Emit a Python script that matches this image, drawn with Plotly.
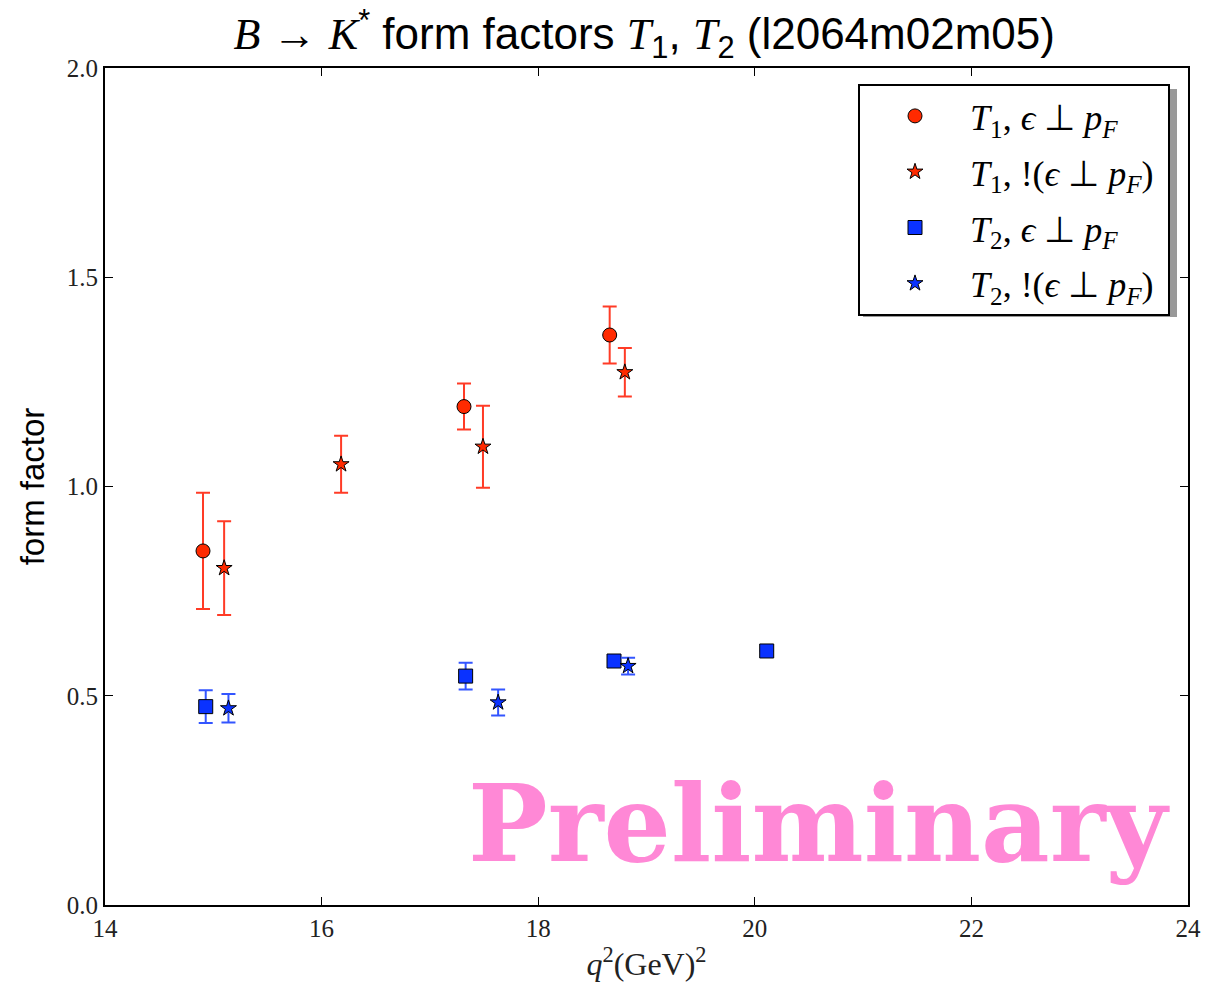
import plotly.graph_objects as go

# T1, eps perp pF (circles)
t1a_x = [14.905, 17.315, 18.66]
t1a_y = [0.846, 1.191, 1.362]
t1a_e = [0.139, 0.055, 0.068]

# T1, !(eps perp pF) (stars)
t1b_x = [15.10, 16.18, 17.49, 18.80]
t1b_y = [0.805, 1.053, 1.095, 1.273]
t1b_e = [0.112, 0.068, 0.098, 0.058]

# T2, eps perp pF (squares)
t2a_x = [14.93, 17.33, 18.70, 20.11]
t2a_y = [0.474, 0.547, 0.583, 0.607]
t2a_e = [0.039, 0.032, 0.0, 0.0]

# T2, !(eps perp pF) (stars)
t2b_x = [15.14, 17.63, 18.83]
t2b_y = [0.470, 0.484, 0.571]
t2b_e = [0.034, 0.031, 0.02]

RED = "#ff2a00"
RED_ERR = "#ff3b26"
BLUE = "#0a32ff"
BLUE_ERR = "#3355ff"

MATH = "font-family:'Liberation Serif', serif; font-style:italic"

series = [
    (t1a_x, t1a_y, t1a_e, "circle", 14, RED, RED_ERR,
     "<i>T</i><sub>1</sub>, <i>ϵ</i> ⊥ <i>p</i><sub><i>F</i></sub>"),
    (t1b_x, t1b_y, t1b_e, "star", 12, RED, RED_ERR,
     "<i>T</i><sub>1</sub>, !(<i>ϵ</i> ⊥ <i>p</i><sub><i>F</i></sub>)&nbsp;"),
    (t2a_x, t2a_y, t2a_e, "square", 14, BLUE, BLUE_ERR,
     "<i>T</i><sub>2</sub>, <i>ϵ</i> ⊥ <i>p</i><sub><i>F</i></sub>"),
    (t2b_x, t2b_y, t2b_e, "star", 12, BLUE, BLUE_ERR,
     "<i>T</i><sub>2</sub>, !(<i>ϵ</i> ⊥ <i>p</i><sub><i>F</i></sub>)&nbsp;"),
]

fig = go.Figure()
for i, (xs, ys, es, sym, sz, col, ecol, name) in enumerate(series):
    fig.add_trace(go.Scatter(
        x=xs, y=ys, mode="markers", name=name,
        legendgroup=f"g{i}",
        marker=dict(symbol=sym, size=sz, color=col,
                    line=dict(color="black", width=1)),
        error_y=dict(type="data", array=es, visible=True,
                     color=ecol, thickness=2, width=7),
    ))

# legend shadow
fig.add_shape(type="rect", xref="paper", yref="paper",
              x0=(863 - 105) / 1083, x1=(1177 - 105) / 1083,
              y0=(905 - 317) / 837, y1=(905 - 89) / 837,
              fillcolor="#999999", line=dict(width=0), layer="above")

fig.add_annotation(
    text="<b>Preliminary</b>", x=20.60, y=0.195, xref="x", yref="y",
    showarrow=False,
    font=dict(family="DejaVu Serif", size=106, color="#ff88d6"),
)

fig.update_layout(
    width=1227, height=990,
    margin=dict(l=105, r=39, t=68, b=85),
    paper_bgcolor="white", plot_bgcolor="white",
    title=dict(
        text=("<span style=\"" + MATH + "\">B</span> → "
              "<span style=\"" + MATH + "\">K</span><sup>*</sup> form factors "
              "<span style=\"" + MATH + "\">T</span><sub>1</sub>, "
              "<span style=\"" + MATH + "\">T</span><sub>2</sub> (l2064m02m05)"),
        x=0.525, xanchor="center", y=0.966, yanchor="middle",
        font=dict(family="Liberation Sans, Arial", size=44, color="black"),
    ),
    xaxis=dict(
        range=[14, 24], tickvals=[14, 16, 18, 20, 22, 24],
        ticktext=["14", "16", "18", "20", "22", "24"],
        ticks="inside", ticklen=8, tickcolor="black", tickwidth=1,
        showline=True, linecolor="black", linewidth=2, mirror="ticks",
        showgrid=False, zeroline=False,
        tickfont=dict(family="Liberation Serif", size=25, color="#222"),
        title=dict(text="<i>q</i><sup>2</sup>(GeV)<sup>2</sup>", standoff=12,
                   font=dict(family="Liberation Serif", size=32, color="#222")),
    ),
    yaxis=dict(
        range=[0, 2], tickvals=[0, 0.5, 1.0, 1.5, 2.0],
        ticktext=["0.0", "0.5", "1.0", "1.5", "2.0"],
        ticks="inside", ticklen=8, tickcolor="black", tickwidth=1,
        showline=True, linecolor="black", linewidth=2, mirror="ticks",
        showgrid=False, zeroline=False,
        tickfont=dict(family="Liberation Serif", size=25, color="#222"),
        title=dict(text="form factor", standoff=12,
                   font=dict(family="Liberation Sans, Arial", size=33, color="black")),
    ),
    legend=dict(
        x=(858 - 105) / 1083, y=(905 - 84) / 837, xanchor="left", yanchor="top",
        bgcolor="white", bordercolor="black", borderwidth=2,
        font=dict(family="Liberation Serif", size=36, color="black"),
        tracegroupgap=6, itemwidth=100,
    ),
    showlegend=True,
)

fig.write_html("out.html")
